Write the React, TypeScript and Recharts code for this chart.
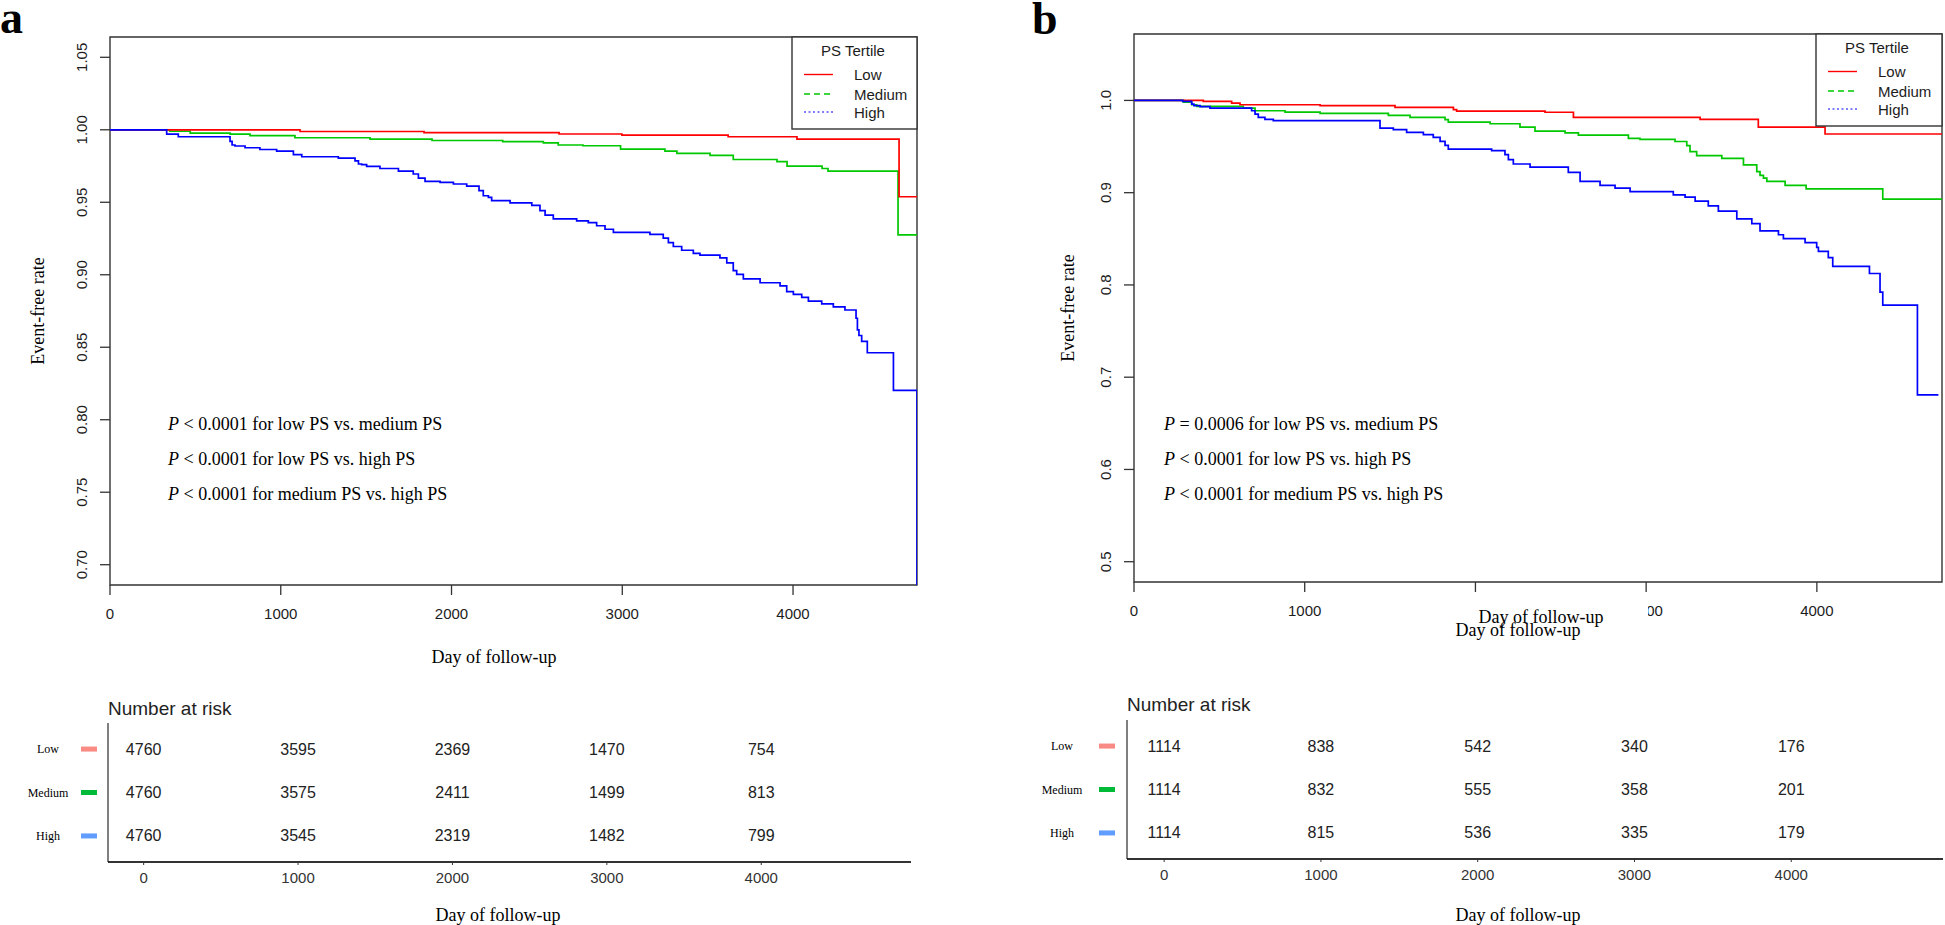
import React from 'react';
import { LineChart, Line, XAxis, YAxis, ReferenceArea, ScatterChart, Scatter } from 'recharts';

// ---------------- Data ----------------
const kmXTicks = [0, 1000, 2000, 3000, 4000];
const aYTicks = [0.7, 0.75, 0.8, 0.85, 0.9, 0.95, 1.0, 1.05];
const bYTicks = [0.5, 0.6, 0.7, 0.8, 0.9, 1.0];
const groups = ['Low', 'Medium', 'High'];

// Panel a survival steps (day, event-free rate)
const aLowT = [0, 1113, 1839, 2630, 2998, 3620, 4023, 4621, 4726];
const aLowS = [1.0, 0.9988, 0.998, 0.9971, 0.9963, 0.9952, 0.9935, 0.9538, 0.9538];

const aMedT = [0, 350, 470, 703, 820, 1083, 1523, 1886, 2300, 2538, 2625, 2770, 2990, 3250, 3320, 3514, 3650, 3906, 3965, 4170, 4205, 4615, 4726];
const aMedS = [1.0, 0.999, 0.9977, 0.997, 0.996, 0.9945, 0.9936, 0.9926, 0.9919, 0.991, 0.9895, 0.989, 0.9866, 0.9853, 0.9837, 0.9824, 0.9795, 0.9781, 0.9749, 0.9733, 0.9715, 0.9275, 0.9275];

const aHighT = [0, 332, 400, 703, 715, 732, 791, 878, 976, 1074, 1123, 1337, 1435, 1455, 1474, 1503, 1581, 1689, 1776, 1806, 1845, 1933, 2011, 2089, 2161, 2186, 2216, 2235, 2343, 2470, 2518, 2548, 2596, 2733, 2801, 2850, 2899, 2948, 3162, 3240, 3270, 3299, 3348, 3416, 3455, 3572, 3612, 3650, 3670, 3709, 3807, 3924, 3963, 4002, 4051, 4090, 4168, 4236, 4304, 4369, 4377, 4386, 4402, 4435, 4588, 4726];
const aHighS = [1.0, 0.997, 0.9952, 0.992, 0.9895, 0.9888, 0.9876, 0.9864, 0.9853, 0.9828, 0.9814, 0.9805, 0.9786, 0.9764, 0.9759, 0.9747, 0.9733, 0.9715, 0.9695, 0.9667, 0.9644, 0.9637, 0.9626, 0.9612, 0.958, 0.9545, 0.9534, 0.9511, 0.9496, 0.9478, 0.9443, 0.9412, 0.9385, 0.9372, 0.9359, 0.9338, 0.9314, 0.9293, 0.9279, 0.9253, 0.9221, 0.9195, 0.9169, 0.9148, 0.9135, 0.9116, 0.9082, 0.9029, 0.9002, 0.8971, 0.8945, 0.8923, 0.8884, 0.8865, 0.8844, 0.8818, 0.8799, 0.8779, 0.8757, 0.87, 0.862, 0.8581, 0.8541, 0.8462, 0.8202, 0.0];

// Panel b survival steps
const bLowT = [0, 406, 572, 621, 1090, 1529, 1871, 1890, 2408, 2574, 3316, 3657, 4048, 4733];
const bLowS = [1.0, 0.9989, 0.9971, 0.9953, 0.9943, 0.9924, 0.99, 0.9885, 0.9872, 0.9816, 0.9795, 0.971, 0.9636, 0.9636];

const bMedT = [0, 289, 338, 367, 640, 709, 885, 1090, 1490, 1617, 1822, 1841, 2086, 2261, 2349, 2525, 2603, 2896, 2964, 3169, 3238, 3257, 3296, 3443, 3570, 3648, 3667, 3687, 3707, 3814, 3937, 4386, 4733];
const bMedS = [1.0, 0.9982, 0.9953, 0.9935, 0.9917, 0.9888, 0.9874, 0.9859, 0.9838, 0.9816, 0.9791, 0.9765, 0.9747, 0.971, 0.9667, 0.9649, 0.9623, 0.9589, 0.9577, 0.9555, 0.9509, 0.9445, 0.9402, 0.9371, 0.9302, 0.9229, 0.9187, 0.9157, 0.9122, 0.908, 0.9041, 0.893, 0.893];

const bHighT = [0, 285, 338, 351, 387, 445, 689, 709, 728, 767, 816, 1441, 1519, 1597, 1695, 1753, 1793, 1822, 1841, 2095, 2173, 2193, 2222, 2320, 2544, 2613, 2730, 2818, 2906, 3159, 3228, 3287, 3364, 3423, 3531, 3619, 3667, 3775, 3804, 3931, 3999, 4009, 4067, 4093, 4308, 4370, 4386, 4589, 4712];
const bHighS = [1.0, 0.9989, 0.996, 0.9943, 0.9932, 0.9917, 0.9888, 0.9852, 0.9816, 0.9794, 0.978, 0.97, 0.9683, 0.9654, 0.9629, 0.96, 0.9556, 0.9513, 0.9473, 0.9455, 0.9412, 0.9358, 0.9311, 0.9278, 0.9221, 0.9122, 0.908, 0.905, 0.9011, 0.8977, 0.8951, 0.8908, 0.8857, 0.8801, 0.8715, 0.8664, 0.8587, 0.8544, 0.8501, 0.8459, 0.8407, 0.8364, 0.8295, 0.8201, 0.8124, 0.7923, 0.7781, 0.6808, 0.6808];

// Number at risk
const riskTimes = [0, 1000, 2000, 3000, 4000];
const aRiskLow = [4760, 3595, 2369, 1470, 754];
const aRiskMed = [4760, 3575, 2411, 1499, 813];
const aRiskHigh = [4760, 3545, 2319, 1482, 799];
const bRiskLow = [1114, 838, 542, 340, 176];
const bRiskMed = [1114, 832, 555, 358, 201];
const bRiskHigh = [1114, 815, 536, 335, 179];

// Annotations
const aPTexts = [
  ['<', '0.0001', 'low PS vs. medium PS'],
  ['<', '0.0001', 'low PS vs. high PS'],
  ['<', '0.0001', 'medium PS vs. high PS'],
];
const bPTexts = [
  ['=', '0.0006', 'low PS vs. medium PS'],
  ['<', '0.0001', 'low PS vs. high PS'],
  ['<', '0.0001', 'medium PS vs. high PS'],
];

// ---------------- Styles ----------------
const SANS = "Arial, 'Liberation Sans', sans-serif";
const SERIF = "'Times New Roman', 'Liberation Serif', serif";
const TICKC = '#1c1c1c';
const FRAME = '#333333';
const lineColors = ['#ff0000', '#00c800', '#0000ff'];
const swatchColors = ['#f98a84', '#00ba38', '#619cff'];

const pts = (t: number[], s: number[]) => t.map((x, i) => ({ t: x, s: s[i] }));

const makeYTick = (digits: number) => (props: any) => {
  const { x, y, payload } = props;
  const cx = x - 16;
  return (
    <text x={cx} y={y} transform={`rotate(-90 ${cx} ${y})`} textAnchor="middle" dominantBaseline="central"
      fontFamily={SANS} fontSize={15} fill={TICKC}>{Number(payload.value).toFixed(digits)}</text>
  );
};

const KMXTick = (props: any) => {
  const { x, y, payload } = props;
  return (
    <text x={x} y={y + 16} textAnchor="middle" dominantBaseline="central" fontFamily={SANS} fontSize={15} fill={TICKC}>
      {payload.value}
    </text>
  );
};

const TableXTick = (props: any) => {
  const { x, y, payload } = props;
  return (
    <text x={x} y={y + 10} textAnchor="middle" dominantBaseline="central" fontFamily={SANS} fontSize={15} fill="#333">
      {payload.value}
    </text>
  );
};

const makeTableYTick = (labelX: number, swX: number) => (props: any) => {
  const { y, payload } = props;
  const idx = 3 - Number(payload.value);
  return (
    <g>
      <text x={labelX} y={y} textAnchor="middle" dominantBaseline="central" fontFamily={SERIF} fontSize={12} fill="#000">
        {groups[idx]}
      </text>
      <rect x={swX} y={y - 2.5} width={16} height={5} fill={swatchColors[idx]} />
    </g>
  );
};

const RiskShape = (props: any) => {
  const { cx, cy, payload } = props;
  return (
    <text x={cx} y={cy} textAnchor="middle" dominantBaseline="central" fontFamily={SANS} fontSize={16} fill="#222">
      {payload.n}
    </text>
  );
};

const riskRows = (vals: number[], row: number) => riskTimes.map((t, i) => ({ t, row, n: vals[i] }));

function KMChart(p: {
  left: number; width: number; margin: any; xMax: number; yDom: [number, number]; yTicks: number[]; digits: number;
  low: any[]; med: any[]; high: any[];
}) {
  return (
    <div style={{ position: 'absolute', left: p.left, top: 0 }}>
      <LineChart width={p.width} height={700} margin={p.margin}>
        <XAxis dataKey="t" type="number" domain={[0, p.xMax]} ticks={kmXTicks} allowDataOverflow height={40}
          tickSize={10} axisLine={false} tickLine={{ stroke: FRAME, strokeWidth: 1.3 }} tick={KMXTick} />
        <YAxis type="number" domain={p.yDom} ticks={p.yTicks} allowDataOverflow width={60}
          tickSize={10} axisLine={false} tickLine={{ stroke: FRAME, strokeWidth: 1.3 }} tick={makeYTick(p.digits)} />
        <ReferenceArea x1={0} x2={p.xMax} y1={p.yDom[0]} y2={p.yDom[1]} fill="none" stroke={FRAME} strokeWidth={1.4}
          ifOverflow="visible" />
        <Line data={p.med} dataKey="s" type="stepAfter" dot={false} stroke={lineColors[1]} strokeWidth={1.7} isAnimationActive={false} />
        <Line data={p.low} dataKey="s" type="stepAfter" dot={false} stroke={lineColors[0]} strokeWidth={1.7} isAnimationActive={false} />
        <Line data={p.high} dataKey="s" type="stepAfter" dot={false} stroke={lineColors[2]} strokeWidth={1.7} isAnimationActive={false} />
      </LineChart>
    </div>
  );
}

function RiskChart(p: {
  left: number; width: number; margin: any; xDom: [number, number]; yWidth: number; labelX: number; swX: number;
  low: number[]; med: number[]; high: number[];
}) {
  return (
    <div style={{ position: 'absolute', left: p.left, top: 680 }}>
      <ScatterChart width={p.width} height={245} margin={p.margin}>
        <XAxis dataKey="t" type="number" domain={p.xDom} ticks={riskTimes} allowDataOverflow height={30} tickSize={3}
          axisLine={{ stroke: '#333', strokeWidth: 1.8 }} tickLine={{ stroke: '#333' }} tick={TableXTick} />
        <YAxis dataKey="row" type="number" domain={[0.4, 3.6]} ticks={[1, 2, 3]} allowDataOverflow width={p.yWidth}
          tickSize={0} tickMargin={0} axisLine={{ stroke: '#000', strokeWidth: 1 }} tickLine={false}
          tick={makeTableYTick(p.labelX, p.swX)} />
        <Scatter data={riskRows(p.low, 3)} shape={RiskShape} isAnimationActive={false} />
        <Scatter data={riskRows(p.med, 2)} shape={RiskShape} isAnimationActive={false} />
        <Scatter data={riskRows(p.high, 1)} shape={RiskShape} isAnimationActive={false} />
      </ScatterChart>
    </div>
  );
}

function LegendBox({ x, y, w, h }: { x: number; y: number; w: number; h: number }) {
  const itemYs = [y + 37.5, y + 57, y + 75];
  const dashes = [undefined, '6 4', '2 2.5'];
  return (
    <g>
      <rect x={x} y={y} width={w} height={h} fill="#fff" stroke={FRAME} strokeWidth={1.4} />
      <text x={x + 61} y={y + 13} textAnchor="middle" dominantBaseline="central" fontFamily={SANS} fontSize={15} fill={TICKC}>
        PS Tertile
      </text>
      {groups.map((g, i) => (
        <g key={g}>
          <line x1={x + 12} x2={x + 41} y1={itemYs[i]} y2={itemYs[i]} stroke={lineColors[i]}
            strokeWidth={i === 2 ? 1.2 : 1.4} strokeDasharray={dashes[i]} />
          <text x={x + 62} y={itemYs[i]} dominantBaseline="central" fontFamily={SANS} fontSize={15} fill={TICKC}>{g}</text>
        </g>
      ))}
    </g>
  );
}

function PTexts({ x, rows }: { x: number; rows: string[][] }) {
  const ys = [424, 459, 494];
  return (
    <g>
      {rows.map((r, i) => (
        <text key={i} x={x} y={ys[i]} dominantBaseline="central" fontFamily={SERIF} fontSize={18} fill="#000">
          <tspan fontStyle="italic">P</tspan>
          {` ${r[0]} ${r[1]} for ${r[2]}`}
        </text>
      ))}
    </g>
  );
}

export default function App() {
  return (
    <div style={{ position: 'absolute', left: 0, top: 0, width: 1945, height: 925, background: '#fff', overflow: 'hidden' }}>
      <KMChart left={0} width={960} margin={{ top: 37, right: 43, bottom: 75, left: 50 }} xMax={4726}
        yDom={[0.686, 1.064]} yTicks={aYTicks} digits={2}
        low={pts(aLowT, aLowS)} med={pts(aMedT, aMedS)} high={pts(aHighT, aHighS)} />
      <KMChart left={960} width={985} margin={{ top: 34, right: 3, bottom: 78, left: 114 }} xMax={4733}
        yDom={[0.478, 1.072]} yTicks={bYTicks} digits={1}
        low={pts(bLowT, bLowS)} med={pts(bMedT, bMedS)} high={pts(bHighT, bHighS)} />
      <RiskChart left={0} width={930} margin={{ top: 43, right: 19, bottom: 33, left: 13 }} xDom={[-231, 4970]}
        yWidth={95} labelX={48} swX={81} low={aRiskLow} med={aRiskMed} high={aRiskHigh} />
      <RiskChart left={950} width={995} margin={{ top: 40, right: 2, bottom: 36, left: 77 }} xDom={[-237, 4968]}
        yWidth={100} labelX={112} swX={149} low={bRiskLow} med={bRiskMed} high={bRiskHigh} />

      <svg style={{ position: 'absolute', left: 0, top: 0 }} width={1945} height={925}>
        {/* panel labels */}
        <text x={0} y={33} fontFamily={SERIF} fontWeight="bold" fontSize={46} fill="#000">a</text>
        <text x={1032} y={34} fontFamily={SERIF} fontWeight="bold" fontSize={46} fill="#000">b</text>

        {/* axis titles */}
        <text x={38} y={311} transform="rotate(-90 38 311)" textAnchor="middle" dominantBaseline="central"
          fontFamily={SERIF} fontSize={18} fill="#000">Event-free rate</text>
        <text x={1068} y={308} transform="rotate(-90 1068 308)" textAnchor="middle" dominantBaseline="central"
          fontFamily={SERIF} fontSize={18} fill="#000">Event-free rate</text>
        <text x={494} y={657} textAnchor="middle" dominantBaseline="central" fontFamily={SERIF} fontSize={18} fill="#000">
          Day of follow-up
        </text>

        {/* panel b pasted title block */}
        <rect x={1440} y={597} width={208} height={44} fill="#fff" />
        <text x={1541} y={617} textAnchor="middle" dominantBaseline="central" fontFamily={SERIF} fontSize={18} fill="#000">
          Day of follow-up
        </text>
        <text x={1518} y={630} textAnchor="middle" dominantBaseline="central" fontFamily={SERIF} fontSize={18} fill="#000">
          Day of follow-up
        </text>

        <PTexts x={168} rows={aPTexts} />
        <PTexts x={1164} rows={bPTexts} />

        <LegendBox x={792} y={37} w={125} h={92} />
        <LegendBox x={1816} y={34} w={126} h={92} />

        {/* risk table titles */}
        <text x={108} y={708} dominantBaseline="central" fontFamily={SANS} fontSize={19} fill="#222">Number at risk</text>
        <text x={1127} y={704} dominantBaseline="central" fontFamily={SANS} fontSize={19} fill="#222">Number at risk</text>
        <text x={498} y={915} textAnchor="middle" dominantBaseline="central" fontFamily={SERIF} fontSize={18} fill="#000">
          Day of follow-up
        </text>
        <text x={1518} y={915} textAnchor="middle" dominantBaseline="central" fontFamily={SERIF} fontSize={18} fill="#000">
          Day of follow-up
        </text>
      </svg>
    </div>
  );
}
